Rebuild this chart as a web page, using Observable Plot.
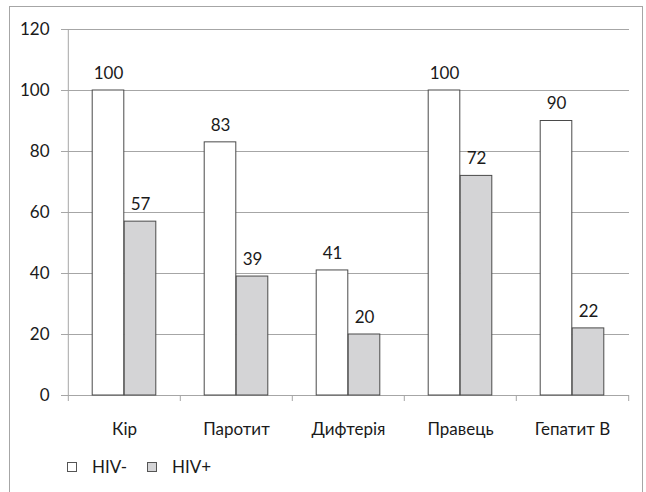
<!DOCTYPE html>
<html>
<head>
<meta charset="utf-8">
<script src="https://cdn.jsdelivr.net/npm/d3@7"></script>
<script src="https://cdn.jsdelivr.net/npm/@observablehq/plot@0.6"></script>
<style>
  html, body { margin: 0; padding: 0; background: #fff; }
  #wrap { position: relative; width: 646px; height: 492px; overflow: hidden; font-family: Lato, "Open Sans", sans-serif; }
  #frame { position: absolute; left: 9px; top: 6px; width: 634px; height: 520px; border: 1px solid #a6a6a6; box-sizing: border-box; }
  #chart { position: absolute; left: 0; top: 0; }
  #legend { position: absolute; left: 67px; top: 456px; display: flex; align-items: center; font-size: 17px; color: #1a1a1a; }
  .sw { width: 8px; height: 8px; border: 1px solid #555; display: inline-block; margin-right: 15px; }
  .item { display: flex; align-items: center; margin-right: 20px; }
</style>
</head>
<body>
<div id="wrap">
  <div id="frame"></div>
  <div id="chart"></div>
  <div id="legend"></div>
</div>
<script>
const categories = ["Кір", "Паротит", "Дифтерія", "Правець", "Гепатит В"];
const hivNeg = [100, 83, 41, 100, 90];
const hivPos = [57, 39, 20, 72, 22];
const yTicks = [0, 20, 40, 60, 80, 100, 120];
const seriesNames = ["HIV-", "HIV+"];
const seriesColors = ["#ffffff", "#d4d4d6"];

const W = 646, H = 445, mL = 67, mR = 17, mT = 29, mB = 50;
const bw = (W - mL - mR) / categories.length;
const barW = 32;
const outer = bw / 2 - barW;

const data = categories.map((c, i) => ({cat: c, neg: hivNeg[i], pos: hivPos[i]}));
const grid = "#a6a6a6";
const ink = "#1a1a1a";
const edge = "#4a4a4a";

const chart = Plot.plot({
  width: W, height: H,
  marginLeft: mL, marginRight: mR, marginTop: mT, marginBottom: mB,
  style: {fontFamily: "Lato, 'Open Sans', sans-serif", fontSize: "17px", color: ink, background: "transparent"},
  x: {domain: categories, padding: 0, axis: null, label: null},
  y: {domain: [0, 120], axis: null, label: null},
  marks: [
    Plot.gridY(yTicks, {stroke: grid, strokeOpacity: 1}),
    Plot.axisY(yTicks, {tickSize: 6, tickPadding: 12, stroke: grid, strokeOpacity: 1, tickFormat: d => d, fill: ink, fontSize: 17, label: null}),
    Plot.ruleX([categories[0]], {x: d => d, dx: -bw / 2, y1: 0, y2: 120, stroke: grid}),
    Plot.axisX(categories, {tickSize: 6, tickFormat: () => "", dx: -bw / 2, stroke: grid, strokeOpacity: 1, label: null}),
    Plot.axisX([categories[categories.length - 1]], {tickSize: 6, tickFormat: () => "", dx: bw / 2, stroke: grid, strokeOpacity: 1, label: null}),
    Plot.axisX(categories, {tickSize: 0, tickPadding: 27, fill: ink, fontSize: 17, label: null}),
    Plot.barY(data, {x: "cat", y: "neg", fill: seriesColors[0], stroke: edge, insetLeft: outer, insetRight: bw / 2}),
    Plot.barY(data, {x: "cat", y: "pos", fill: seriesColors[1], stroke: edge, insetLeft: bw / 2, insetRight: outer}),
    Plot.text(data, {x: "cat", y: "neg", text: d => d.neg, dx: -barW / 2, dy: -17, fill: ink, fontSize: 17}),
    Plot.text(data, {x: "cat", y: "pos", text: d => d.pos, dx: barW / 2, dy: -17, fill: ink, fontSize: 17})
  ]
});
document.getElementById("chart").appendChild(chart);

const legend = document.getElementById("legend");
seriesNames.forEach((n, i) => {
  const item = document.createElement("span");
  item.className = "item";
  const sw = document.createElement("span");
  sw.className = "sw";
  sw.style.background = seriesColors[i];
  item.appendChild(sw);
  item.appendChild(document.createTextNode(n));
  legend.appendChild(item);
});
</script>
</body>
</html>
